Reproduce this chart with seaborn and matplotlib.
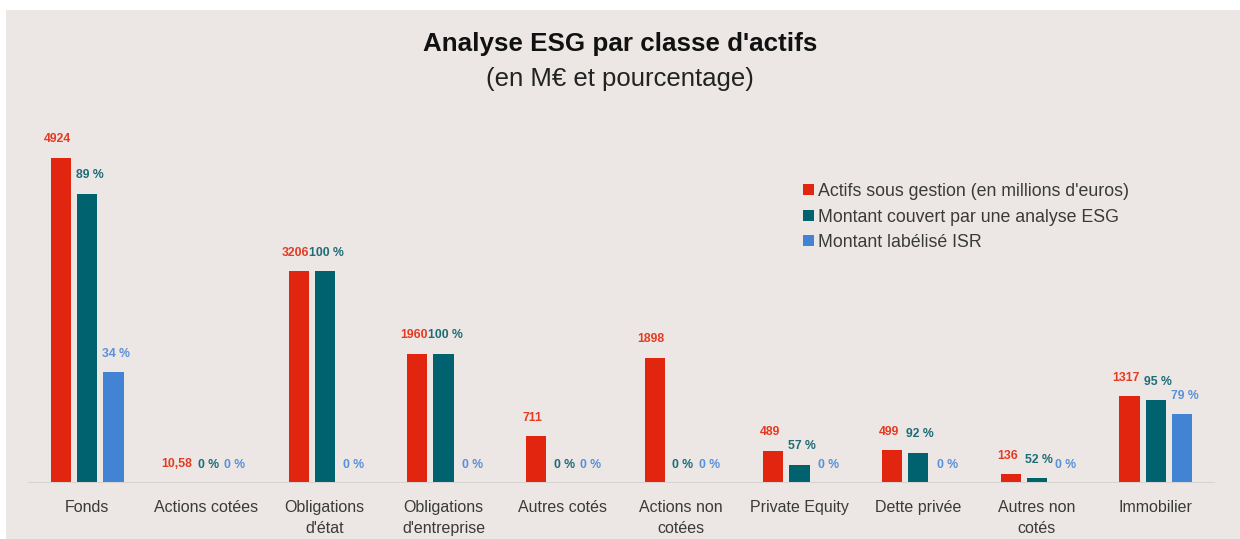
import numpy as np
import pandas as pd
import matplotlib.pyplot as plt
import seaborn as sns
from matplotlib.patches import Rectangle

categories = ["Fonds", "Actions cotées", "Obligations\nd'état", "Obligations\nd'entreprise",
              "Autres cotés", "Actions non\ncotées", "Private Equity", "Dette privée",
              "Autres non\ncotés", "Immobilier"]
actifs = [4924, 10.58, 3206, 1960, 711, 1898, 489, 499, 136, 1317]
pct_esg = [89, 0, 100, 100, 0, 0, 57, 92, 52, 95]
pct_isr = [34, 0, 0, 0, 0, 0, 0, 0, 0, 79]
series = ["Actifs sous gestion (en millions d'euros)",
          "Montant couvert par une analyse ESG",
          "Montant labélisé ISR"]

bar_colors = ["#E2250F", "#00626F", "#4383D4"]
label_colors = ["#E53A22", "#1E6C76", "#5A90DA"]
bg = "#ECE7E5"

# hauteurs en M€ : montant total, puis part couverte
rows = []
for cat, a, pe, pi in zip(categories, actifs, pct_esg, pct_isr):
    rows.append((cat, series[0], a))
    rows.append((cat, series[1], a * pe / 100))
    rows.append((cat, series[2], a * pi / 100))
df = pd.DataFrame(rows, columns=["classe", "serie", "montant"])

lbl_actifs = [str(a).replace(".", ",") if a % 1 else str(int(a)) for a in actifs]
lbl_esg = [f"{p} %" for p in pct_esg]
lbl_isr = [f"{p} %" for p in pct_isr]

sns.set_style("white")
plt.rcParams["font.family"] = ["Liberation Sans", "DejaVu Sans"]

fig = plt.figure(figsize=(12.4, 5.39), dpi=100, facecolor="white")
fig.patches.append(Rectangle((6 / 1240, 0), 1, 1 - 10 / 539, transform=fig.transFigure,
                             facecolor=bg, edgecolor="none", zorder=-10))
ax = fig.add_axes([28 / 1240, 56 / 539, (1215 - 28) / 1240, 383 / 539])
ax.set_facecolor("none")

sns.barplot(data=df, x="classe", y="montant", hue="serie", hue_order=series,
            palette=bar_colors, saturation=1, width=0.66, gap=0.23, linewidth=0,
            ax=ax, legend=True)

# petits decalages horizontaux des etiquettes (en points)
shifts = [-2.5, 1.5, 2]
for cont, labels, col, dx in zip(ax.containers, [lbl_actifs, lbl_esg, lbl_isr],
                                 label_colors, shifts):
    for bar, txt in zip(cont, labels):
        ax.annotate(txt, (bar.get_x() + bar.get_width() / 2, bar.get_height()),
                    xytext=(dx, 9), textcoords="offset points", ha="center", va="bottom",
                    color=col, fontsize=8.8, fontweight="bold")

ax.set_ylim(0, 5800)
ax.set_xlim(-0.5, 9.5)
ax.axhline(0, color="#D6D3D1", lw=2.2, zorder=5)
sns.despine(ax=ax, left=True, bottom=True)
ax.set_yticks([])
ax.set_xlabel("")
ax.set_ylabel("")
ax.tick_params(axis="x", length=0, pad=12, labelsize=11.5, labelcolor="#3A3A3A")
for t in ax.get_xticklabels():
    t.set_linespacing(1.55)

handles, labs = ax.get_legend_handles_labels()
ax.legend(handles, labs, loc="upper left", bbox_to_anchor=(787 / 1240, 1 - 167 / 539),
          bbox_transform=fig.transFigure, frameon=False, fontsize=12.8,
          handlelength=0.6, handleheight=0.6, handletextpad=0.25, labelspacing=0.48,
          labelcolor="#3A3A3A")

fig.text(0.5, 1 - 44 / 539, "Analyse ESG par classe d'actifs", ha="center", va="center",
         fontsize=18.7, fontweight="bold", color="#111111")
fig.text(0.5, 1 - 79 / 539, "(en M€ et pourcentage)", ha="center", va="center",
         fontsize=18.5, color="#222222")

fig.savefig("out.png", dpi=100, facecolor=fig.get_facecolor())
